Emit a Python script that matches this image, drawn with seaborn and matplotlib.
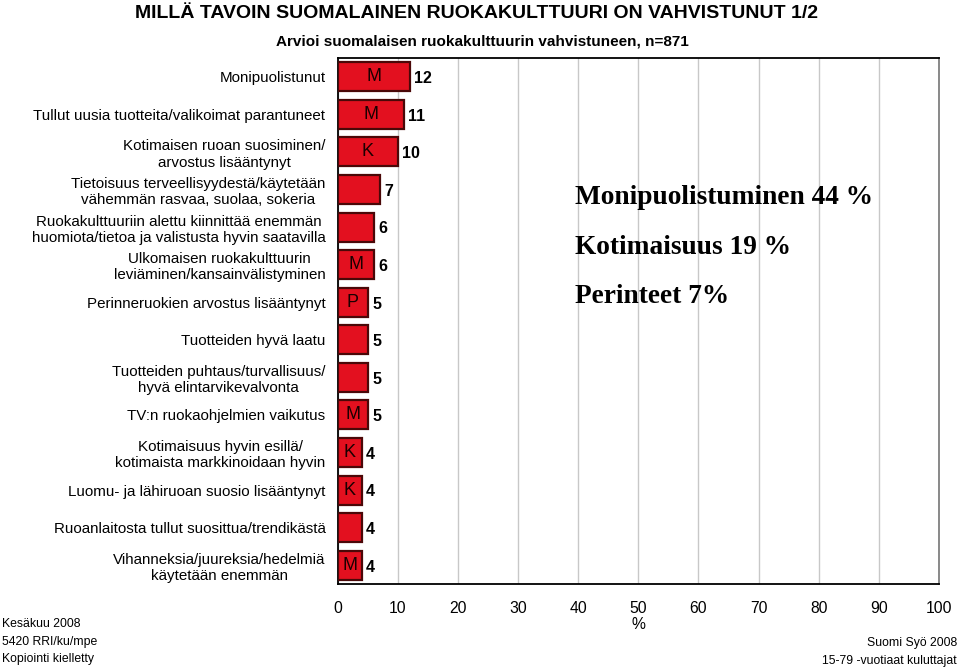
import matplotlib
matplotlib.use("Agg")
import matplotlib.pyplot as plt
import seaborn as sns
import pandas as pd

categories = [
    "Monipuolistunut",
    "Tullut uusia tuotteita/valikoimat parantuneet",
    "Kotimaisen ruoan suosiminen/\narvostus lisääntynyt",
    "Tietoisuus terveellisyydestä/käytetään\nvähemmän rasvaa, suolaa, sokeria",
    "Ruokakulttuuriin alettu kiinnittää enemmän\nhuomiota/tietoa ja valistusta hyvin saatavilla",
    "Ulkomaisen ruokakulttuurin\nleviäminen/kansainvälistyminen",
    "Perinneruokien arvostus lisääntynyt",
    "Tuotteiden hyvä laatu",
    "Tuotteiden puhtaus/turvallisuus/\nhyvä elintarvikevalvonta",
    "TV:n ruokaohjelmien vaikutus",
    "Kotimaisuus hyvin esillä/\nkotimaista markkinoidaan hyvin",
    "Luomu- ja lähiruoan suosio lisääntynyt",
    "Ruoanlaitosta tullut suosittua/trendikästä",
    "Vihanneksia/juureksia/hedelmiä\nkäytetään enemmän",
]
values = [12, 11, 10, 7, 6, 6, 5, 5, 5, 5, 4, 4, 4, 4]
letters = ["M", "M", "K", "", "", "M", "P", "", "", "M", "K", "K", "", "M"]
summary = ["Monipuolistuminen 44 %", "Kotimaisuus 19 %", "Perinteet 7%"]
xticks = [0, 10, 20, 30, 40, 50, 60, 70, 80, 90, 100]

sns.set_theme(style="white")
plt.rcParams["font.family"] = ["Liberation Sans", "DejaVu Sans"]
plt.rcParams["text.color"] = "black"
plt.rcParams["xtick.color"] = "black"
plt.rcParams["ytick.color"] = "black"
plt.rcParams["axes.labelcolor"] = "black"

df = pd.DataFrame({"cat": categories, "val": values})

fig = plt.figure(figsize=(9.6, 6.68), dpi=100)
ax = fig.add_axes([0.352, 0.1257, 0.626, 0.7875])

sns.barplot(data=df, y="cat", x="val", order=categories, orient="h",
            color="#E3101F", saturation=1, width=0.77,
            edgecolor="#4a0808", linewidth=1.6, ax=ax, zorder=3)

ax.set_xlim(0, 100)
ax.set_ylim(len(categories) - 0.5, -0.5)
ax.set_xticks(xticks)
ax.set_xticklabels([str(t) for t in xticks], fontsize=11.3)
ax.tick_params(axis="x", direction="out", length=6, width=1, color="black",
               labelcolor="black", pad=6)
ax.tick_params(axis="y", length=0, pad=9, labelcolor="black")
for lbl in ax.get_yticklabels():
    lbl.set_fontsize(10.9)
    lbl.set_multialignment("center")
ax.set_ylabel("")
ax.set_xlabel("%", fontsize=11.3, labelpad=1, color="black")
ax.grid(axis="x", color="#c8c8c8", linewidth=1, zorder=0)
ax.set_axisbelow(True)
for side in ["left", "bottom", "top"]:
    ax.spines[side].set_color("black")
    ax.spines[side].set_linewidth(1.3)
ax.spines["right"].set_color("#808080")
ax.spines["right"].set_linewidth(1.3)

for i, (v, l) in enumerate(zip(values, letters)):
    ax.text(v + 0.7, i + 0.05, str(v), va="center", ha="left",
            fontsize=11.5, fontweight="bold", color="black", zorder=4)
    if l:
        ax.text(v / 2, i, l, va="center", ha="center", fontsize=13,
                color="#1a0000", zorder=4)

for j, s in enumerate(summary):
    fig.text(0.599, 1 - (197 + j * 50) / 668, s, fontsize=19.7, fontweight="bold",
             family=["Liberation Serif", "DejaVu Serif"], va="center", ha="left",
             color="black")

fig.text(0.496, 1 - 13 / 668, "MILLÄ TAVOIN SUOMALAINEN RUOKAKULTTUURI ON VAHVISTUNUT 1/2",
         ha="center", va="center", fontsize=14, fontweight="bold", color="black",
         family=["Liberation Sans", "DejaVu Sans"])
fig.text(0.502, 1 - 42 / 668, "Arvioi suomalaisen ruokakulttuurin vahvistuneen, n=871",
         ha="center", va="center", fontsize=11, fontweight="bold", color="black",
         family=["Liberation Sans", "DejaVu Sans"])

for k, s in enumerate(["Kesäkuu 2008", "5420 RRI/ku/mpe", "Kopiointi kielletty"]):
    fig.text(0.002, 1 - (624 + k * 17.5) / 668, s, fontsize=8.8, ha="left",
             va="center", color="black")
for k, s in enumerate(["Suomi Syö 2008", "15-79 -vuotiaat kuluttajat"]):
    fig.text(0.997, 1 - (643 + k * 18) / 668, s, fontsize=8.8, ha="right",
             va="center", color="black")

fig.savefig("out.png", dpi=100)
